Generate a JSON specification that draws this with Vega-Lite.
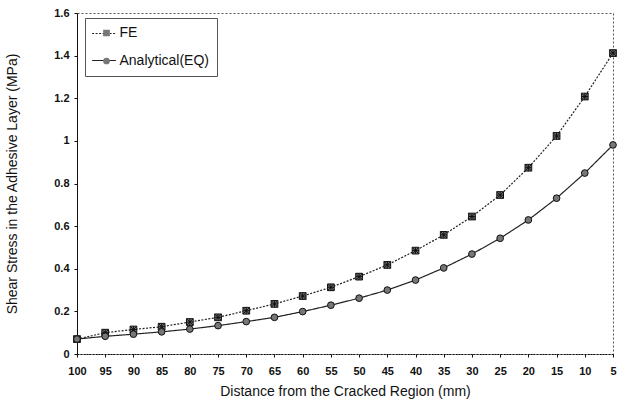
{
  "$schema": "https://vega.github.io/schema/vega-lite/v6.json",
  "width": 536,
  "height": 341,
  "autosize": {"type": "none"},
  "padding": {"left": 77, "top": 13, "right": 5, "bottom": 45},
  "background": "white",
  "config": {
    "font": "Liberation Sans",
    "view": {"stroke": "#555", "strokeDash": [2, 2], "strokeWidth": 1},
    "axis": {"grid": false, "domainColor": "#111", "tickColor": "#111", "labelColor": "#111", "titleColor": "#111", "labelFont": "Liberation Sans", "titleFont": "Liberation Sans"}
  },
  "data": {
    "values": [
      {"d": 100, "series": "FE", "stress": 0.07},
      {"d": 95, "series": "FE", "stress": 0.1},
      {"d": 90, "series": "FE", "stress": 0.115},
      {"d": 85, "series": "FE", "stress": 0.128},
      {"d": 80, "series": "FE", "stress": 0.15},
      {"d": 75, "series": "FE", "stress": 0.172},
      {"d": 70, "series": "FE", "stress": 0.203},
      {"d": 65, "series": "FE", "stress": 0.235},
      {"d": 60, "series": "FE", "stress": 0.272},
      {"d": 55, "series": "FE", "stress": 0.313},
      {"d": 50, "series": "FE", "stress": 0.363},
      {"d": 45, "series": "FE", "stress": 0.418},
      {"d": 40, "series": "FE", "stress": 0.485},
      {"d": 35, "series": "FE", "stress": 0.559},
      {"d": 30, "series": "FE", "stress": 0.645},
      {"d": 25, "series": "FE", "stress": 0.746},
      {"d": 20, "series": "FE", "stress": 0.874},
      {"d": 15, "series": "FE", "stress": 1.023},
      {"d": 10, "series": "FE", "stress": 1.208},
      {"d": 5, "series": "FE", "stress": 1.412},
      {"d": 100, "series": "Analytical(EQ)", "stress": 0.07},
      {"d": 95, "series": "Analytical(EQ)", "stress": 0.083},
      {"d": 90, "series": "Analytical(EQ)", "stress": 0.093},
      {"d": 85, "series": "Analytical(EQ)", "stress": 0.104},
      {"d": 80, "series": "Analytical(EQ)", "stress": 0.117},
      {"d": 75, "series": "Analytical(EQ)", "stress": 0.133},
      {"d": 70, "series": "Analytical(EQ)", "stress": 0.152},
      {"d": 65, "series": "Analytical(EQ)", "stress": 0.172},
      {"d": 60, "series": "Analytical(EQ)", "stress": 0.199},
      {"d": 55, "series": "Analytical(EQ)", "stress": 0.229},
      {"d": 50, "series": "Analytical(EQ)", "stress": 0.262},
      {"d": 45, "series": "Analytical(EQ)", "stress": 0.3},
      {"d": 40, "series": "Analytical(EQ)", "stress": 0.347},
      {"d": 35, "series": "Analytical(EQ)", "stress": 0.404},
      {"d": 30, "series": "Analytical(EQ)", "stress": 0.469},
      {"d": 25, "series": "Analytical(EQ)", "stress": 0.543},
      {"d": 20, "series": "Analytical(EQ)", "stress": 0.629},
      {"d": 15, "series": "Analytical(EQ)", "stress": 0.731},
      {"d": 10, "series": "Analytical(EQ)", "stress": 0.849},
      {"d": 5, "series": "Analytical(EQ)", "stress": 0.981}
    ]
  },
  "encoding": {
    "x": {
      "field": "d", "type": "quantitative",
      "scale": {"domain": [5, 100], "reverse": true, "nice": false, "zero": false},
      "axis": {
        "values": [100, 95, 90, 85, 80, 75, 70, 65, 60, 55, 50, 45, 40, 35, 30, 25, 20, 15, 10, 5],
        "title": "Distance from the Cracked Region (mm)",
        "titleFontSize": 14, "titleFontWeight": "normal", "titlePadding": 8,
        "labelFontSize": 11, "labelFontWeight": "bold", "labelPadding": 8, "tickSize": 3,
        "labelFlush": false, "domainDash": [2, 1]
      }
    },
    "y": {
      "field": "stress", "type": "quantitative",
      "scale": {"domain": [0, 1.6], "nice": false},
      "axis": {
        "values": [0, 0.2, 0.4, 0.6, 0.8, 1, 1.2, 1.4, 1.6],
        "format": "~g",
        "title": "Shear Stress in the Adhesive Layer (MPa)",
        "titleFontSize": 14, "titleFontWeight": "normal", "titlePadding": 34,
        "labelFontSize": 11, "labelFontWeight": "bold", "labelPadding": 5, "tickSize": 3
      }
    }
  },
  "layer": [
    {
      "mark": {"type": "line", "color": "#222", "strokeWidth": 1.2},
      "encoding": {
        "strokeDash": {
          "field": "series", "type": "nominal",
          "scale": {"domain": ["FE", "Analytical(EQ)"], "range": [[2, 1.5], [1, 0]]},
          "legend": {
            "title": null,
            "orient": "none",
            "legendX": 8,
            "legendY": 8,
            "direction": "vertical",
            "labelExpr": "''",
            "labelFontSize": 1,
            "symbolType": "M-3.4,0L3.4,0",
            "symbolSize": 49,
            "symbolStrokeColor": "#222",
            "symbolStrokeWidth": 1.2,
            "symbolOffset": 6.5,
            "rowPadding": 20,
            "padding": 8
          }
        }
      }
    },
    {
      "mark": {"type": "point", "size": 45, "strokeWidth": 1, "opacity": 1, "filled": false, "fill": "#777", "stroke": "#111"},
      "encoding": {
        "shape": {
          "field": "series", "type": "nominal",
          "scale": {"domain": ["FE", "Analytical(EQ)"], "range": ["M-1,-1L1,-1L1,1L-1,1ZM-1,-1L1,1M-1,1L1,-1M0,-1L0,1M-1,0L1,0", "circle"]},
          "legend": {
            "title": null,
            "orient": "none",
            "legendX": 8,
            "legendY": 5,
            "direction": "vertical",
            "labelFontSize": 14,
            "labelColor": "#111",
            "labelFont": "Liberation Sans",
            "symbolSize": 45,
            "symbolStrokeColor": "#111",
            "symbolFillColor": "#777",
            "symbolStrokeWidth": 1,
            "symbolOffset": 6.5,
            "rowPadding": 14,
            "padding": 8,
            "labelOffset": 6,
            "strokeColor": "#555"
          }
        }
      }
    }
  ],
  "resolve": {"legend": {"shape": "independent", "strokeDash": "independent"}}
}
